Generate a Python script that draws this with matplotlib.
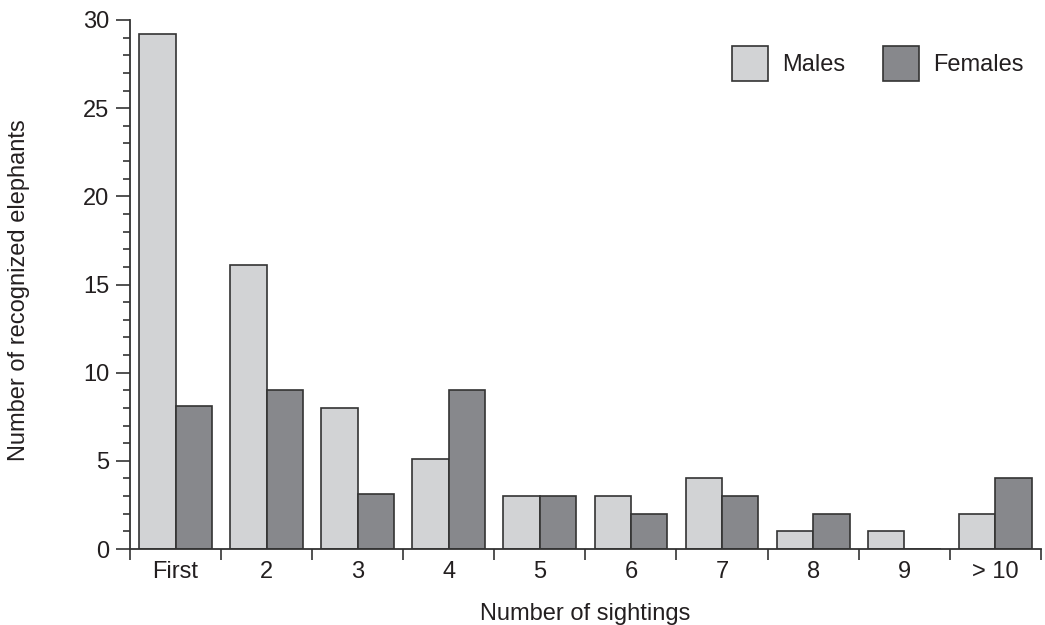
import matplotlib.pyplot as plt
import numpy as np

plt.rcParams['font.family'] = ['Liberation Sans', 'DejaVu Sans']

# data
categories = ['First', '2', '3', '4', '5', '6', '7', '8', '9', '> 10']
males = [29.2, 16.1, 8.0, 5.1, 3, 3, 4, 1, 1, 2]
females = [8.1, 9.0, 3.1, 9.0, 3, 2, 3, 2, 0, 4]

text_col = '#231f20'
edge_col = '#333333'
male_col = '#d2d3d5'
female_col = '#87888c'
fs = 17

fig = plt.figure(figsize=(10.45, 6.25), dpi=100)
ax = fig.add_axes([0.1244, 0.1216, 0.8716, 0.8464])

x = np.arange(len(categories))
w = 0.4
ax.bar(x - w / 2, males, w, color=male_col, edgecolor=edge_col, linewidth=1.2, label='Males')
ax.bar(x + w / 2, females, w, color=female_col, edgecolor=edge_col, linewidth=1.2, label='Females')

ax.set_xlim(-0.5, len(categories) - 0.5)
ax.set_ylim(0, 30)

# spines
for s in ['top', 'right']:
    ax.spines[s].set_visible(False)
for s in ['left', 'bottom']:
    ax.spines[s].set_color(edge_col)
    ax.spines[s].set_linewidth(1.3)

# y ticks
ax.set_yticks(np.arange(0, 31, 5))
ax.set_yticks(np.arange(0, 31, 1), minor=True)
ax.tick_params(axis='y', which='major', length=10, width=1.2, color=edge_col,
               labelsize=fs, labelcolor=text_col, pad=5)
ax.tick_params(axis='y', which='minor', length=5, width=1.2, color=edge_col)

# x ticks: separators as major ticks, labels on minor ticks
ax.set_xticks(np.arange(-0.5, len(categories), 1))
ax.set_xticklabels([])
ax.set_xticks(x, minor=True)
ax.set_xticklabels(categories, minor=True)
ax.tick_params(axis='x', which='major', length=8, width=1.2, color=edge_col)
ax.tick_params(axis='x', which='minor', length=0, labelsize=fs, labelcolor=text_col, pad=9)

ax.set_xlabel('Number of sightings', fontsize=fs, color=text_col, labelpad=14)
ax.set_ylabel('Number of recognized elephants', fontsize=fs, color=text_col)
ax.yaxis.set_label_coords(-0.110, 0.489)

leg = ax.legend(loc='upper right', bbox_to_anchor=(0.981, 0.950), ncol=2, frameon=False,
                fontsize=fs, handlelength=1.53, handleheight=1.9, handletextpad=0.6,
                columnspacing=1.6, borderpad=0, borderaxespad=0)
for t in leg.get_texts():
    t.set_color(text_col)

fig.savefig('out.png', dpi=100)
